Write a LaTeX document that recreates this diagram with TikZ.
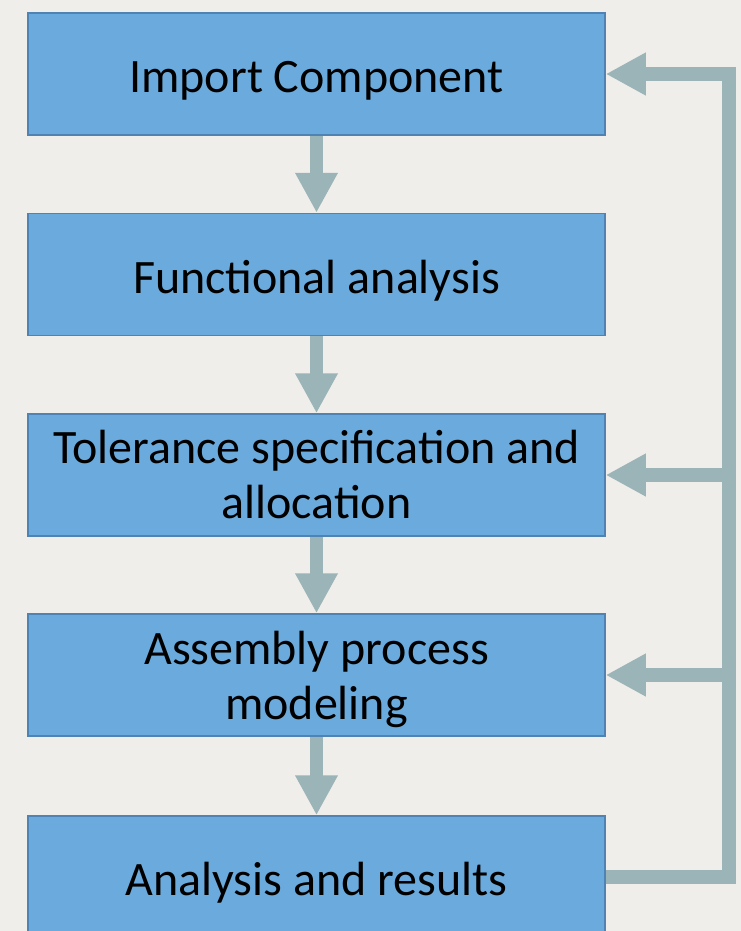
\documentclass[tikz,border=0pt]{standalone}
\usepackage{fontspec}
\setmainfont{Carlito}
\usetikzlibrary{arrows.meta}
\definecolor{paper}{HTML}{F0EEEA}
\definecolor{boxfill}{HTML}{6AAADC}
\definecolor{boxline}{HTML}{4F83B4}
\definecolor{flow}{HTML}{9AB4B8}
\begin{document}
\begin{tikzpicture}[x=1pt,y=-1pt,
  stage/.style={draw=boxline, line width=1.5pt, fill=boxfill,
    minimum width=577pt, minimum height=122pt, inner sep=0pt},
  caption/.style={font=\fontsize{48}{55}\selectfont, align=center,
    anchor=base, inner sep=0pt},
  bigtip/.style={-{Triangle[width=40pt,length=40pt]}},
  flowdown/.style={draw=flow, line width=13pt, bigtip},
  feedback/.style={draw=flow, line width=14pt, line join=miter},
]
% paper background and page frame
\fill[paper] (0,0) rectangle (741,931);
\useasboundingbox (0,0) rectangle (741,931);
\clip (0,0) rectangle (741,931);

% process stages
\node[stage] (b1) at (316.5,74) {};
\node[stage] (b2) at (316.5,274.5) {};
\node[stage] (b3) at (316.5,475) {};
\node[stage] (b4) at (316.5,675) {};
\node[stage] (b5) at (316.5,877) {};

% stage captions (base anchor sits on the last line)
\node[caption] (t1) at (316.5,93) {Import Component};
\node[caption] (t2) at (316.5,293.5) {Functional analysis};
\node[caption] (t3) at (316.5,518.5) {Tolerance specification and\\allocation};
\node[caption] (t4) at (316.5,719) {Assembly process\\modeling};
\node[caption] (t5) at (316.5,895.5) {Analysis and results};

% forward flow
\draw[flowdown] (b1.south) -- (b2.north);
\draw[flowdown] (b2.south) -- (b3.north);
\draw[flowdown] (b3.south) -- (b4.north);
\draw[flowdown] (b4.south) -- (b5.north);

% feedback rail
\coordinate (railtop) at (729,74);
\coordinate (railbot) at (729,877);
\draw[feedback, bigtip] (b5.east) -- (railbot) -- (railtop) -- (b1.east);
\draw[feedback, bigtip] (b3.east -| railtop) -- (b3.east);
\draw[feedback, bigtip] (b4.east -| railtop) -- (b4.east);
\end{tikzpicture}
\end{document}
